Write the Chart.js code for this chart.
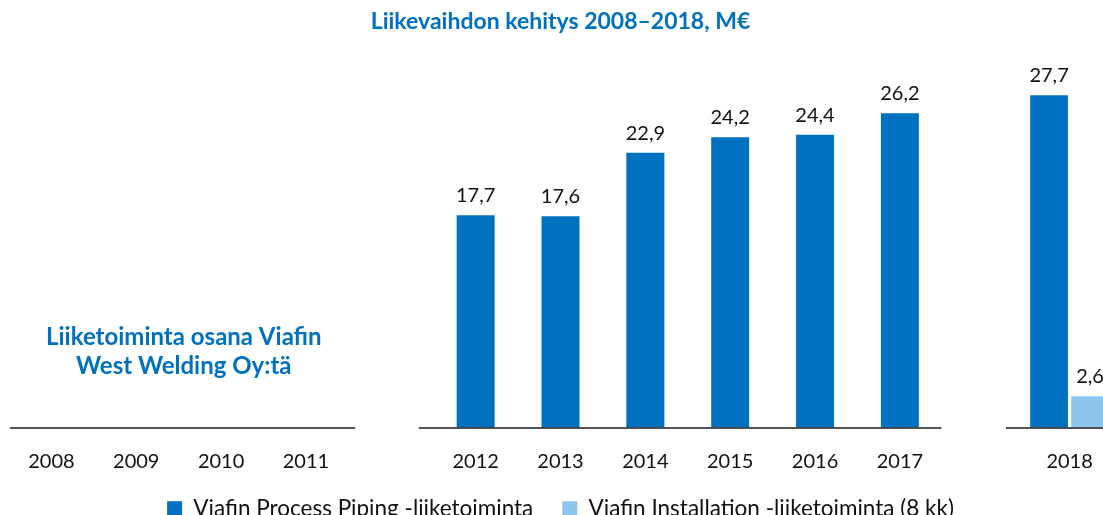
<!DOCTYPE html>
<html>
<head>
<meta charset="utf-8">
<title>Liikevaihdon kehitys 2008–2018</title>
<script src="https://cdn.jsdelivr.net/npm/chart.js@4/dist/chart.umd.min.js"></script>
<style>
    html, body { margin: 0; padding: 0; overflow: hidden; background: #fff; }
    #wrap { position: absolute; left: 0; top: 0; width: 1120px; height: 530px; }
</style>
</head>
<body>
<div id="wrap"><canvas id="salesChart"></canvas></div>
<script>
// data (M€), gaps are empty categories
const categories = ['2008', '2009', '2010', '2011', '', '2012', '2013', '2014', '2015', '2016', '2017', '', '2018'];
const processPiping = [null, null, null, null, null, 17.7, 17.6, 22.9, 24.2, 24.4, 26.2, null, 27.7];
const installation = [null, null, null, null, null, null, null, null, null, null, null, null, 2.6];
const seriesNames = ['Viafin Process Piping -liiketoiminta', 'Viafin Installation -liiketoiminta (8 kk)'];
const titleText = 'Liikevaihdon kehitys 2008–2018, M€';
const noteLines = ['Liiketoiminta osana Viafin', 'West Welding Oy:tä'];

const BLUE = '#0070c0';
const LIGHT_BLUE = '#8ec6ef';
const FONT = 'Lato';

// pieces of the x axis line, in category units
const axisSegments = [[-0.49, 3.58], [4.33, 10.49], [11.25, 12.5]];

const fmt = (v) => v.toFixed(1).replace('.', ',');

const axisPieces = {
    id: 'axisPieces',
    afterDatasetsDraw(chart) {
        const { ctx, chartArea, scales: { x } } = chart;
        ctx.save();
        ctx.strokeStyle = '#1a1a1a';
        ctx.lineWidth = 1.5;
        axisSegments.forEach(([a, b]) => {
            ctx.beginPath();
            ctx.moveTo(x.getPixelForValue(a), chartArea.bottom + 0.5);
            ctx.lineTo(x.getPixelForValue(b), chartArea.bottom + 0.5);
            ctx.stroke();
        });
        ctx.restore();
    }
};

const valueLabels = {
    id: 'valueLabels',
    afterDatasetsDraw(chart) {
        const { ctx } = chart;
        ctx.save();
        ctx.font = `20px ${FONT}`;
        ctx.fillStyle = '#111';
        ctx.textAlign = 'center';
        ctx.textBaseline = 'alphabetic';
        chart.data.datasets.forEach((ds, di) => {
            const meta = chart.getDatasetMeta(di);
            meta.data.forEach((bar, i) => {
                const v = ds.data[i];
                if (v === null || v === undefined) return;
                ctx.fillText(fmt(v), bar.x, bar.y - 13);
            });
        });
        ctx.restore();
    }
};

const sideNote = {
    id: 'sideNote',
    afterDraw(chart) {
        const { ctx, scales: { x, y } } = chart;
        ctx.save();
        ctx.font = `bold 24px ${FONT}`;
        ctx.fillStyle = BLUE;
        ctx.textAlign = 'center';
        ctx.textBaseline = 'alphabetic';
        const cx = x.getPixelForValue(1.56);
        const y0 = y.getPixelForValue(6.85);
        noteLines.forEach((line, i) => ctx.fillText(line, cx, y0 + i * 29));
        ctx.restore();
    }
};

const ctx = document.getElementById('salesChart').getContext('2d');
new Chart(ctx, {
    type: 'bar',
    data: {
        labels: categories,
        datasets: [
            {
                label: seriesNames[0],
                data: processPiping,
                backgroundColor: BLUE,
                skipNull: true
            },
            {
                label: seriesNames[1],
                data: installation,
                backgroundColor: LIGHT_BLUE,
                skipNull: true
            }
        ]
    },
    options: {
        responsive: true,
        maintainAspectRatio: false,
        animation: false,
        categoryPercentage: 0.967,
        barPercentage: 0.92,
        maxBarThickness: 38,
        layout: { padding: { left: 9, right: 8, top: 0, bottom: 0 } },
        plugins: {
            title: {
                display: true,
                text: titleText,
                color: BLUE,
                font: { family: FONT, size: 23, weight: 'bold' },
                padding: { top: 8, bottom: 32 }
            },
            legend: {
                position: 'bottom',
                labels: {
                    boxWidth: 15,
                    boxHeight: 15,
                    padding: 29,
                    color: '#111',
                    font: { family: FONT, size: 22.5 }
                }
            },
            tooltip: { enabled: false }
        },
        scales: {
            x: {
                grid: { display: false, drawTicks: false },
                border: { display: false },
                ticks: {
                    autoSkip: false,
                    maxRotation: 0,
                    padding: 22,
                    color: '#111',
                    font: { family: FONT, size: 20 }
                },
                afterFit: (scale) => { scale.height = 41; }
            },
            y: {
                display: false,
                min: 0,
                max: 30
            }
        }
    },
    plugins: [axisPieces, valueLabels, sideNote]
});
</script>
</body>
</html>
